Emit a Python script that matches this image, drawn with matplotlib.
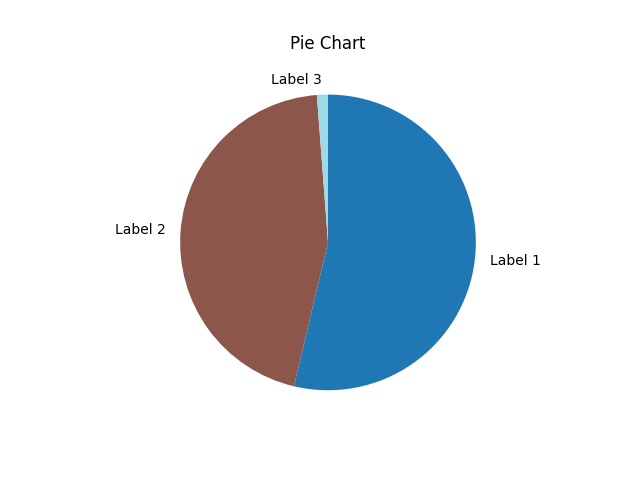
import matplotlib
matplotlib.use('Agg')
import matplotlib.pyplot as plt
import numpy as np

labels = ['Label 1', 'Label 2', 'Label 3']
sizes = [53.7, 45.1, 1.2]

colors = plt.cm.tab20(np.linspace(0, 1, len(sizes)))

fig, ax = plt.subplots(figsize=(6.4, 4.8), dpi=100)
ax.pie(sizes, labels=labels, colors=colors, startangle=90, counterclock=False)
ax.set_title('Pie Chart')

plt.savefig('out.png')
